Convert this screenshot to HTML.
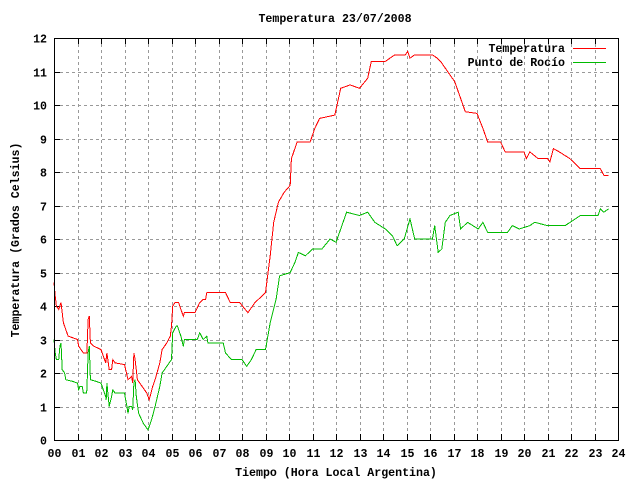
<!DOCTYPE html>
<html><head><meta charset="utf-8"><style>
body{margin:0;background:#fff}
svg text{font-family:"Liberation Mono",monospace;font-weight:bold;font-size:11.6px;fill:#000}
svg line,svg polyline,svg rect{shape-rendering:crispEdges}
</style></head><body>
<svg id="c" width="640" height="480">
<text x="335" y="22" text-anchor="middle">Temperatura 23/07/2008</text>
<text x="336" y="476" text-anchor="middle">Tiempo (Hora Local Argentina)</text>
<text transform="translate(19,240) rotate(-90)" text-anchor="middle">Temperatura (Grados Celsius)</text>
<g id="grid"></g><g id="series"></g>
<rect x="54.5" y="38.5" width="564" height="402" fill="none" stroke="#000" stroke-width="1"/>
<text x="565" y="52" text-anchor="end">Temperatura</text>
<line x1="573" y1="48.5" x2="606" y2="48.5" stroke="#f00"/>
<text x="565" y="66" text-anchor="end">Punto de Rocío</text>
<line x1="573" y1="62.5" x2="606" y2="62.5" stroke="#0b0"/>
</svg>
<script>
const xTicks=["00","01","02","03","04","05","06","07","08","09","10","11","12","13","14","15","16","17","18","19","20","21","22","23","24"];
const yTicks=[0,1,2,3,4,5,6,7,8,9,10,11,12];
const tempHours=[0,0.05,0.1,0.2,0.3,0.4,0.6,0.8,1.0,1.05,1.15,1.25,1.4,1.45,1.5,1.55,1.7,2.0,2.05,2.2,2.25,2.35,2.45,2.5,2.6,3.0,3.05,3.15,3.3,3.35,3.4,3.45,3.55,3.75,3.95,4.05,4.2,4.3,4.5,4.6,4.8,4.95,5.0,5.05,5.15,5.3,5.4,5.5,5.55,6.0,6.2,6.35,6.45,6.5,7.3,7.5,7.9,8.25,8.55,8.85,9.0,9.2,9.35,9.55,9.8,10.05,10.1,10.35,10.9,11.1,11.3,11.95,12.2,12.6,13.0,13.35,13.5,14.1,14.5,14.95,15.05,15.15,15.35,16.1,16.3,16.45,16.75,17.05,17.3,17.5,18.0,18.25,18.45,19.0,19.2,20.0,20.1,20.25,20.6,21.0,21.1,21.25,21.5,21.95,22.4,23.25,23.4,23.6];
const tempValues=[4.7,4.3,4.0,3.9,4.1,3.5,3.1,3.05,3.0,2.8,2.7,2.6,2.6,3.6,3.7,2.9,2.8,2.7,2.6,2.3,2.6,2.1,2.1,2.4,2.3,2.25,2.1,1.8,1.9,1.7,2.6,2.4,1.8,1.6,1.4,1.2,1.6,1.8,2.3,2.7,2.9,3.1,3.4,4.0,4.1,4.1,3.9,3.7,3.8,3.8,4.1,4.2,4.2,4.4,4.4,4.1,4.1,3.8,4.1,4.3,4.4,5.5,6.5,7.1,7.4,7.6,8.4,8.9,8.9,9.3,9.6,9.7,10.5,10.6,10.5,10.8,11.3,11.3,11.5,11.5,11.6,11.4,11.5,11.5,11.4,11.3,11.0,10.7,10.2,9.8,9.75,9.3,8.9,8.9,8.6,8.6,8.4,8.6,8.4,8.4,8.3,8.7,8.6,8.4,8.1,8.1,7.9,7.9];
const dewHours=[0,0.05,0.1,0.2,0.25,0.3,0.35,0.45,0.5,0.8,1.0,1.05,1.1,1.2,1.25,1.38,1.4,1.45,1.5,1.55,1.8,2.0,2.1,2.2,2.22,2.25,2.35,2.45,2.5,2.6,3.0,3.1,3.15,3.2,3.3,3.35,3.4,3.45,3.5,3.6,3.8,4.0,4.15,4.3,4.5,4.6,4.8,5.0,5.05,5.2,5.25,5.4,5.5,5.55,6.1,6.2,6.35,6.5,6.55,7.05,7.2,7.3,7.55,8.0,8.2,8.4,8.6,9.0,9.2,9.45,9.6,10.05,10.25,10.4,10.7,11.0,11.4,11.75,12.0,12.2,12.45,13.0,13.35,13.65,14.1,14.4,14.6,14.9,15.15,15.35,16.1,16.2,16.35,16.5,16.65,16.85,17.2,17.3,17.6,18.05,18.25,18.45,19.3,19.5,19.8,20.25,20.45,21.0,21.75,22.4,23.15,23.25,23.4,23.6];
const dewValues=[3.0,2.6,2.4,2.4,2.8,2.9,2.1,2.0,1.8,1.75,1.7,1.5,1.6,1.6,1.4,1.4,1.5,2.6,2.8,1.8,1.75,1.7,1.5,1.3,1.2,1.7,1.0,1.3,1.5,1.4,1.4,1.0,0.8,1.0,1.0,0.9,1.7,1.8,1.3,0.8,0.5,0.3,0.6,1.0,1.6,2.0,2.2,2.4,3.2,3.4,3.4,3.1,2.8,3.0,3.0,3.2,3.0,3.1,2.9,2.9,2.9,2.6,2.4,2.4,2.2,2.4,2.7,2.7,3.5,4.2,4.9,5.0,5.3,5.6,5.5,5.7,5.7,6.0,5.9,6.3,6.8,6.7,6.8,6.5,6.3,6.1,5.8,6.0,6.6,6.0,6.0,6.4,5.6,5.7,6.5,6.7,6.8,6.3,6.5,6.3,6.5,6.2,6.2,6.4,6.3,6.4,6.5,6.4,6.4,6.7,6.7,6.9,6.8,6.9];
const X0=54,X1=618,Y0=440,Y1=38;
const xs=h=>X0+(X1-X0)*h/24, ys=v=>Y0-(Y0-Y1)*v/12;
const NS="http://www.w3.org/2000/svg";
const grid=document.getElementById('grid'),ser=document.getElementById('series');
function mk(t,a,p){const e=document.createElementNS(NS,t);for(const k in a)e.setAttribute(k,a[k]);p.appendChild(e);return e;}
xTicks.forEach((t,i)=>{const x=Math.round(xs(i))+0.5;
 if(i>0&&i<24){const g=mk('line',{x1:x,y1:Y1,x2:x,y2:Y0,stroke:'#999','stroke-dasharray':'3,3'},grid);
 
 }
 mk('line',{x1:x,y1:Y0,x2:x,y2:Y0-6,stroke:'#000'},grid);mk('line',{x1:x,y1:Y1,x2:x,y2:Y1+6,stroke:'#000'},grid);
 const l=mk('text',{x:x,y:457,'text-anchor':'middle'},grid);l.textContent=t;
 
 });
yTicks.forEach(v=>{const y=Math.round(ys(v))+0.5;
 if(v>0&&v<12){const g=mk('line',{x1:X0,y1:y,x2:X1,y2:y,stroke:'#999','stroke-dasharray':'3,3'},grid);
 
 }
 mk('line',{x1:X0,y1:y,x2:X0+6,y2:y,stroke:'#000'},grid);mk('line',{x1:X1,y1:y,x2:X1-6,y2:y,stroke:'#000'},grid);
 const l=mk('text',{x:47,y:y+4,'text-anchor':'end'},grid);l.textContent=v;
 
 });
function line(hs,vs,c,n){const p=mk('polyline',{points:hs.map((h,i)=>xs(h).toFixed(1)+','+ys(vs[i]).toFixed(1)).join(' '),fill:'none',stroke:c,'stroke-width':1},ser);
 
 }
line(dewHours,dewValues,'#0b0','dewpoint-line');
line(tempHours,tempValues,'#f00','temperature-line');
</script>
</body></html>
